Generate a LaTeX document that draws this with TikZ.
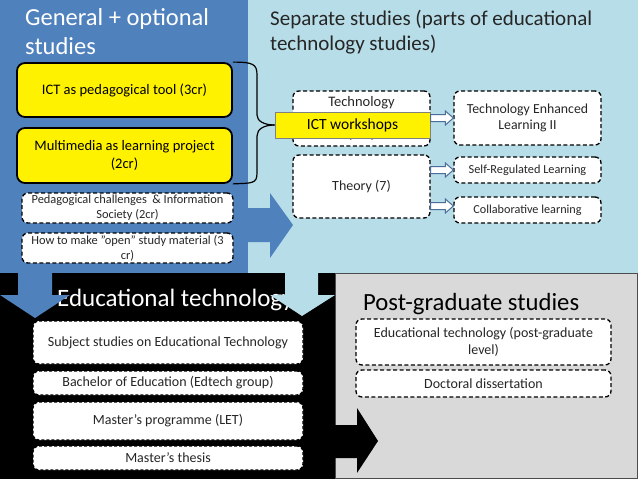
\documentclass[tikz,border=0pt]{standalone}
\usepackage{fontspec}
\setmainfont{Carlito}
\usetikzlibrary{calc}
\definecolor{panelblue}{HTML}{4F81BD}
\definecolor{lightpanel}{HTML}{B7DDE8}
\definecolor{graypanel}{HTML}{D9D9D9}
\definecolor{arrowedge}{HTML}{4A6E9C}
\definecolor{titledark}{HTML}{262626}
\newcommand\fs[1]{\fontsize{#1}{1.2\dimexpr#1pt\relax}\selectfont}
\newcommand\hollowarr[2]{\draw[hollow] ($(#1)+(0,-3.5)$) -- ($(#2)+(-8,-3.5)$) -- ($(#2)+(-8,-7)$) -- (#2) -- ($(#2)+(-8,7)$) -- ($(#2)+(-8,3.5)$) -- ($(#1)+(0,3.5)$) -- cycle;}
\tikzset{
  yellowbox/.style={draw=black, line width=1.8pt, fill=yellow, rounded corners=8pt, align=center, inner sep=2pt},
  dashbox/.style={draw=black, line width=1.3pt, dash pattern=on 4pt off 2.5pt, fill=white, rounded corners=6pt, align=center, inner sep=2pt, text=titledark},
  darkbox/.style={draw=black, line width=1.3pt, dash pattern=on 3pt off 2pt, fill=white, rounded corners=6pt, align=center, inner sep=2pt, text=titledark},
  hollow/.style={draw=arrowedge, line width=1pt, fill=white, line join=miter},
  bigtitle/.style={anchor=base west, inner sep=0pt, align=left},
}
\begin{document}
\begin{tikzpicture}[x=1pt, y=-1pt]
\clip (0,0) rectangle (638,479);
% panels
\fill[panelblue] (0,0) rectangle (248,273);
\fill[lightpanel] (248,0) rectangle (638,273);
% big right arrow
\fill[panelblue] (240,208) -- (270,208) -- (270,193) -- (293,225) -- (270,258) -- (270,242) -- (240,242) -- cycle;
% titles
\node[bigtitle, text=white, font=\fs{24.5}] (t1) at (25,26) {General + optional};
\node[bigtitle, text=white, font=\fs{24.5}] (t1b) at (25,54) {studies};
\node[bigtitle, text=titledark, font=\fs{21}] (t2) at (270,25) {Separate studies (parts of educational};
\node[bigtitle, text=titledark, font=\fs{21}] (t2b) at (270,50) {technology studies)};
% left boxes
\node[yellowbox, minimum width=215pt, minimum height=54pt, font=\fs{14.5}] (y1) at (124.5,90) {ICT as pedagogical tool (3cr)};
\node[yellowbox, minimum width=215pt, minimum height=55pt, font=\fs{14.5}] (y2) at (124.5,155.5) {Multimedia as learning project\\(2cr)};
\node[dashbox, minimum width=211pt, minimum height=30pt, font=\fs{12.4}] (d3) at (127.5,208) {Pedagogical challenges \ \& Information\\Society (2cr)};
\node[dashbox, minimum width=211pt, minimum height=30pt, font=\fs{12.4}] (d4) at (127.5,248) {How to make ”open” study material (3\\cr)};
% right boxes
\node[dashbox, minimum width=137pt, minimum height=55pt, font=\fs{14.5}] (tech) at (361.5,118.5) {Technology\\[15pt](5cr)};
\node[dashbox, minimum width=137pt, minimum height=63pt, font=\fs{14}] (theory) at (361.5,186.5) {Theory (7)};
\node[dashbox, minimum width=147pt, minimum height=54pt, font=\fs{13.8}] (tel) at (527.5,118) {Technology Enhanced\\Learning II};
\node[dashbox, minimum width=147pt, minimum height=26pt, font=\fs{12.3}] (srl) at (527.5,170) {Self-Regulated Learning};
\node[dashbox, minimum width=147pt, minimum height=26pt, font=\fs{12.2}] (collab) at (527.5,210) {Collaborative learning};
\node[draw=black!50, line width=0.6pt, fill=yellow, minimum width=155pt, minimum height=26pt, font=\fs{15.5}, inner sep=0pt] (ictw) at (352.5,125) {ICT workshops};
% hollow arrows
\hollowarr{tech.east |- tel.west}{tel.west}
\hollowarr{theory.east |- srl.west}{srl.west}
\coordinate (cend) at ($(collab.west)+(0,-4)$);
\hollowarr{theory.east |- cend}{cend}
% brace
\draw[line width=1.2pt] (y1.north east) .. controls +(20,0) and (257,64) .. (257,75) -- (257,115) .. controls (257,121) and (264,125) .. (ictw.west);
\draw[line width=1.2pt] (ictw.west) .. controls (264,125) and (257,129) .. (257,136) -- (257,173) .. controls (257,184) and (252,183) .. (y2.south east);
% bottom black region
\fill[black] (0,273) rectangle (335,479);
\node[bigtitle, text=white, font=\fs{25}] (t3) at (57,306) {Educational technology};
\node[darkbox, minimum width=270pt, minimum height=43pt, font=\fs{14}] (subj) at (168,342.5) {Subject studies on Educational Technology};
\node[darkbox, minimum width=270pt, minimum height=24pt, font=\fs{14}] (bach) at (168,383) {Bachelor of Education (Edtech group)};
\node[darkbox, minimum width=270pt, minimum height=38pt, font=\fs{14}] (mprog) at (168,421) {Master’s programme (LET)};
\node[darkbox, minimum width=270pt, minimum height=24pt, font=\fs{14}] (thesis) at (168,458) {Master’s thesis};
% down arrows
\fill[panelblue] (18,265) -- (52,265) -- (52,295) -- (70,295) -- (35,318) -- (0,295) -- (18,295) -- cycle;
\fill[lightpanel] (285,265) -- (318,265) -- (318,295) -- (335,295) -- (302,316) -- (270,295) -- (285,295) -- cycle;
% gray panel
\filldraw[fill=graypanel, draw=black!70, line width=1pt] (335,273) rectangle (637.5,478.5);
\fill[black] (320,425) -- (357,425) -- (357,408) -- (378,441) -- (357,473) -- (357,458) -- (320,458) -- cycle;
\node[bigtitle, text=black, font=\fs{24.7}] (t4) at (363,310) {Post-graduate studies};
\node[dashbox, minimum width=255pt, minimum height=46pt, font=\fs{14}] (pg1) at (483.5,342) {Educational technology (post-graduate\\level)};
\node[dashbox, minimum width=255pt, minimum height=27pt, font=\fs{14}] (pg2) at (483.5,383.5) {Doctoral dissertation};
\end{tikzpicture}
\end{document}
